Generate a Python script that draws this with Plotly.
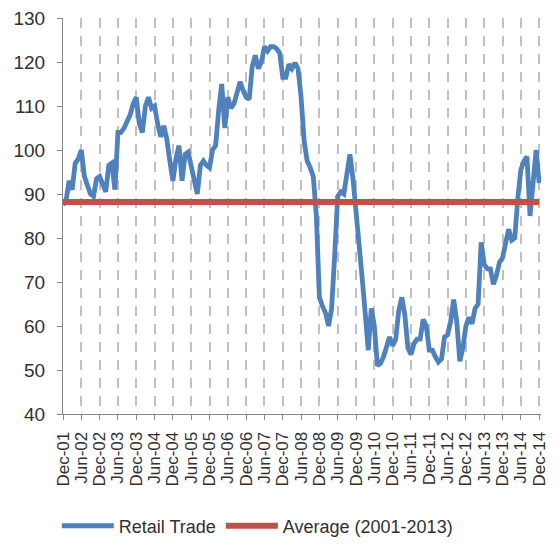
import pandas as pd
import plotly.graph_objects as go

# ---- data ----
months = list(pd.date_range("2001-12-01", "2014-12-01", freq="MS").strftime("%b-%y"))
tick_labels = months[::6]

retail_trade = [
    87.5, 88.5, 93, 91, 97, 98, 100, 94, 92, 90, 89.5, 93.5,          # Dec-01 .. Nov-02
    94, 92, 90.5, 96.5, 97, 91, 104, 104, 105, 106.5, 108, 110.5,     # Dec-02 .. Nov-03
    112, 106, 104, 110, 112, 109.5, 110, 106, 103, 105.5, 102.5, 97.5,  # Dec-03 .. Nov-04
    93, 98, 101, 93, 99, 99.5, 96.5, 92.5, 90, 96.5, 97.5, 96.5,      # Dec-04 .. Nov-05
    96, 100, 101, 109, 115, 105, 112, 109.5, 110.5, 113, 115.5, 113.5,  # Dec-05 .. Nov-06
    112, 111.5, 119, 121.5, 118.5, 120, 123.5, 122.5, 123.5, 123.5, 123, 122,  # Dec-06 .. Nov-07
    116.5, 116.5, 119.5, 118.5, 119.8, 118.5, 112, 102, 97.5, 96, 94, 85,  # Dec-07 .. Nov-08
    66.5, 64.5, 63, 60, 64, 76, 89.5, 90.5, 90, 94.5, 99, 93.5,       # Dec-08 .. Nov-09
    85, 77, 71, 63, 54.5, 64, 60, 51, 51.5, 53, 55, 57.5,             # Dec-09 .. Nov-10
    55.5, 57, 63.5, 66.5, 62.5, 55, 53.5, 56, 57, 57, 61.5, 60,       # Dec-10 .. Nov-11
    54.5, 54.5, 53, 51.8, 52.5, 57.5, 58, 61, 66, 61, 52, 55,         # Dec-11 .. Nov-12
    60, 62, 60.5, 64, 65, 79, 74, 73, 73, 69.5, 71.5, 74.5,           # Dec-12 .. Nov-13
    75.5, 79.5, 82, 79.5, 80, 89, 95.5, 97.5, 98.5, 85, 93, 100,      # Dec-13 .. Nov-14
    92.5,                                                             # Dec-14
]

average_value = 88.2
average_line = [average_value] * len(months)

# ---- figure ----
FONT = "Liberation Sans"
TXT = "#303030"
fig = go.Figure()
fig.add_trace(go.Scatter(
    x=months, y=retail_trade, name="Retail Trade", mode="lines",
    line=dict(color="#4F81BD", width=4.8, shape="linear"),
))
fig.add_trace(go.Scatter(
    x=months, y=average_line, name="Average (2001-2013)", mode="lines",
    line=dict(color="#C0504D", width=6),
))

# page body has an 8px default margin, so the figure is 8px smaller and shifted
fig.update_layout(
    width=550, height=540,
    margin=dict(l=55, r=17, t=10, b=134, autoexpand=False),
    paper_bgcolor="white", plot_bgcolor="white",
    font=dict(family=FONT, size=17, color=TXT),
    showlegend=True,
    legend=dict(
        orientation="h", x=-0.013, xanchor="left", y=-0.283, yanchor="middle",
        font=dict(family=FONT, size=18, color=TXT),
        itemwidth=52,
        bgcolor="rgba(0,0,0,0)",
    ),
)

fig.update_xaxes(
    type="category", automargin=False,
    range=[0, len(months) - 1 + 0.6],
    tickmode="array", tickvals=tick_labels, ticktext=tick_labels,
    tickangle=-90,
    tickfont=dict(family=FONT, size=17, color=TXT),
    ticks="outside", ticklen=5, tickcolor="#868686", tickwidth=1,
    ticklabelstandoff=5,
    showline=True, linecolor="#868686", linewidth=1,
    showgrid=True, gridcolor="#C0C0C0", gridwidth=2, griddash="10px,8px",
    zeroline=False,
)
fig.update_yaxes(
    automargin=False,
    range=[40, 130], dtick=10, tick0=40,
    tickfont=dict(family=FONT, size=19, color=TXT),
    ticks="outside", ticklen=5, tickcolor="#868686", tickwidth=1,
    ticklabelstandoff=8, ticklabeloverflow="allow",
    showline=True, linecolor="#868686", linewidth=1,
    showgrid=False, zeroline=False,
)

fig.write_html("out.html")
